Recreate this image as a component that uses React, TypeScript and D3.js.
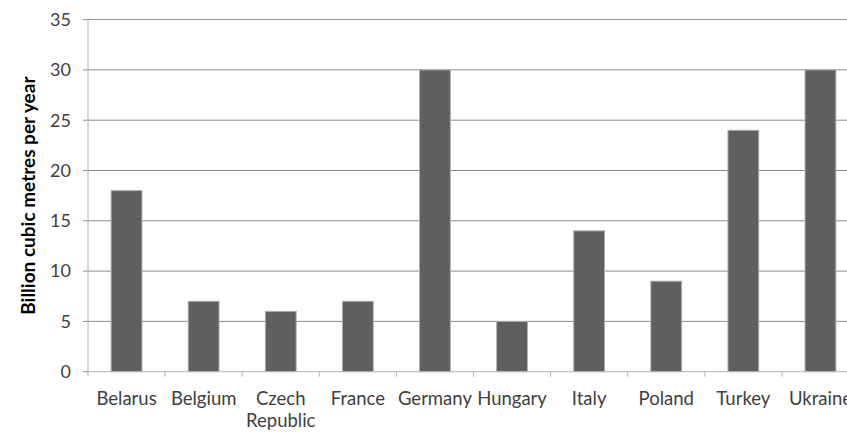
import React from "react";
import * as d3 from "d3";

const categories: string[][] = [
  ["Belarus"], ["Belgium"], ["Czech", "Republic"], ["France"], ["Germany"],
  ["Hungary"], ["Italy"], ["Poland"], ["Turkey"], ["Ukraine"],
];
const values: number[] = [18, 7, 6, 7, 30, 5, 14, 9, 24, 30];
const yTicks: number[] = [0, 5, 10, 15, 20, 25, 30, 35];
const yTitle = "Billion cubic metres per year";

export default function App() {
  const W = 847, H = 432;
  const left = 88, right = 859, top = 19.6, bottom = 371.7;
  const keys = categories.map((c) => c.join(" "));
  const x = d3.scaleBand<string>().domain(keys).range([left, right]).paddingInner(0.6).paddingOuter(0.3);
  const band = d3.scaleBand<string>().domain(keys).range([left, right]);
  const y = d3.scaleLinear().domain([0, 35]).range([bottom, top]);
  const font = "Lato, 'Open Sans', sans-serif";
  return (
    <div style={{ position: "absolute", left: 0, top: 0 }}>
      <svg width={W} height={H} style={{ display: "block", background: "#fff" }}>
        {yTicks.map((t) => (
          <g key={t}>
            {t > 0 && (
              <line x1={left} x2={W} y1={y(t)} y2={y(t)} stroke="#8c8c8c" strokeWidth={1} />
            )}
            <line x1={left - 5} x2={left} y1={y(t)} y2={y(t)} stroke="#8c8c8c" />
            <text x={71} y={y(t)} dy="0.35em" textAnchor="end" fontFamily={font} fontSize={18} fill="#404040">
              {t}
            </text>
          </g>
        ))}
        <line x1={left} x2={left} y1={top} y2={bottom} stroke="#b4b4b4" />
        {values.map((v, i) => (
          <rect key={keys[i]} x={x(keys[i])} y={y(v)} width={x.bandwidth()} height={bottom - y(v)}
            fill="#5f5f5f" stroke="#b0b0b0" strokeWidth={1} />
        ))}
        <line x1={left} x2={W} y1={bottom} y2={bottom} stroke="#b4b4b4" />
        {keys.map((k, i) => (
          <line key={"t" + k} x1={band(k)! + band.bandwidth()} x2={band(k)! + band.bandwidth()}
            y1={bottom} y2={bottom + 5} stroke="#b4b4b4" />
        ))}
        <line x1={left} x2={left} y1={bottom} y2={bottom + 5} stroke="#b4b4b4" />
        {categories.map((lines, i) => (
          <text key={"l" + keys[i]} x={band(keys[i])! + band.bandwidth() / 2} y={404.5}
            textAnchor="middle" fontFamily={font} fontSize={18.5} fill="#404040">
            {lines.map((ln, j) => (
              <tspan key={j} x={band(keys[i])! + band.bandwidth() / 2} dy={j === 0 ? 0 : 22}>{ln}</tspan>
            ))}
          </text>
        ))}
        <text transform={`translate(35,${(top + bottom) / 2}) rotate(-90)`} textAnchor="middle"
          fontFamily={font} fontSize={19} fontWeight="bold" fill="#000">
          {yTitle}
        </text>
      </svg>
    </div>
  );
}
